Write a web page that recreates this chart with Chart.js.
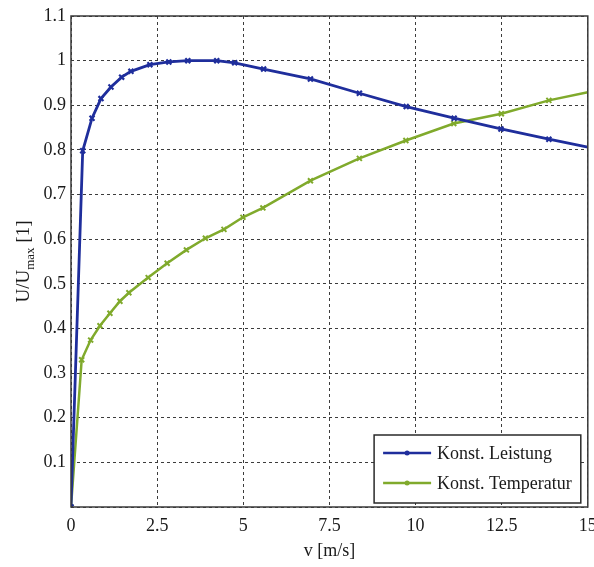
<!DOCTYPE html>
<html>
<head>
<meta charset="utf-8">
<script src="https://cdn.jsdelivr.net/npm/chart.js@4.4.0/dist/chart.umd.min.js"></script>
<style>
  html, body { margin: 0; padding: 0; background: #ffffff; }
  #wrap { width: 594px; height: 567px; }
</style>
</head>
<body>
<div id="wrap"><canvas id="chartU"></canvas></div>
<script>
// values
var leistungV = [0, 0.34, 0.61, 0.87, 1.16, 1.47, 1.74, 2.29, 2.84, 3.39, 4.23, 4.75, 5.59, 6.95, 8.37, 9.73, 11.12, 12.48, 13.87, 15];
var leistungU = [0, 0.798, 0.871, 0.915, 0.941, 0.963, 0.976, 0.991, 0.997, 1.0, 1.0, 0.995, 0.981, 0.959, 0.927, 0.897, 0.871, 0.847, 0.824, 0.806];

var temperaturV = [0, 0.31, 0.57, 0.84, 1.13, 1.42, 1.68, 2.24, 2.79, 3.35, 3.90, 4.44, 4.99, 5.57, 6.95, 8.37, 9.72, 11.11, 12.49, 13.87, 15];
var temperaturU = [0, 0.33, 0.374, 0.406, 0.434, 0.461, 0.48, 0.514, 0.546, 0.576, 0.602, 0.622, 0.649, 0.67, 0.731, 0.781, 0.821, 0.859, 0.881, 0.911, 0.929];

var xTicks = [0, 2.5, 5, 7.5, 10, 12.5, 15];
var yTicks = [0, 0.1, 0.2, 0.3, 0.4, 0.5, 0.6, 0.7, 0.8, 0.9, 1, 1.1];

var seriesNames = ["Konst. Leistung", "Konst. Temperatur"];

var serif = "'Liberation Serif', 'DejaVu Serif', serif";
var blue = "#1f2e9c";
var green = "#80aa2c";

function toPoints(xs, ys) {
  return xs.map(function (x, i) {
    return { x: x, y: ys[i] };
  });
}

// no marker on the last point (line just runs into the frame)
function markerSize(ctx) {
  return ctx.dataIndex === ctx.dataset.data.length - 1 ? 0 : 3.5;
}

// frame round the plot, like matlab "box on"
var frame = {
  id: "frame",
  afterDatasetsDraw: function (chart) {
    var a = chart.chartArea;
    var c = chart.ctx;
    c.save();
    c.strokeStyle = "#3a3a3a";
    c.lineWidth = 1.5;
    c.strokeRect(a.left, a.top, a.right - a.left, a.bottom - a.top);
    c.restore();
  },
};

// legend box in the lower right corner of the plot
var boxLegend = {
  id: "boxLegend",
  afterDraw: function (chart) {
    var a = chart.chartArea;
    var c = chart.ctx;
    var sets = chart.data.datasets;
    c.save();
    c.font = "18px " + serif;
    var w = 0;
    sets.forEach(function (d) {
      w = Math.max(w, c.measureText(d.label).width);
    });
    var boxW = w + 72;
    var boxH = 68;
    var x0 = a.right - 7 - boxW;
    var y0 = a.bottom - 4 - boxH;
    c.fillStyle = "#ffffff";
    c.fillRect(x0, y0, boxW, boxH);
    c.strokeStyle = "#2a2a2a";
    c.lineWidth = 1.5;
    c.strokeRect(x0, y0, boxW, boxH);
    sets.forEach(function (d, i) {
      var y = y0 + 18 + i * 30;
      c.strokeStyle = d.borderColor;
      c.lineWidth = 2.5;
      c.beginPath();
      c.moveTo(x0 + 9, y);
      c.lineTo(x0 + 57, y);
      c.stroke();
      c.fillStyle = d.borderColor;
      c.beginPath();
      c.arc(x0 + 33, y, 2.5, 0, Math.PI * 2);
      c.fill();
      c.fillStyle = "#1a1a1a";
      c.textBaseline = "middle";
      c.textAlign = "left";
      c.fillText(d.label, x0 + 63, y + 1);
    });
    c.restore();
  },
};

// y title with subscript: U/U_max [1]
var yTitle = {
  id: "yTitle",
  afterDraw: function (chart) {
    var a = chart.chartArea;
    var c = chart.ctx;
    c.save();
    c.fillStyle = "#1a1a1a";
    c.translate(29, (a.top + a.bottom) / 2);
    c.rotate(-Math.PI / 2);
    c.textBaseline = "alphabetic";
    var big = "19px " + serif;
    var small = "13px " + serif;
    c.font = big;
    var w1 = c.measureText("U/U").width;
    var w3 = c.measureText(" [1]").width;
    c.font = small;
    var w2 = c.measureText("max").width;
    var x = -(w1 + w2 + w3) / 2;
    c.font = big;
    c.fillText("U/U", x, 0);
    c.font = small;
    c.fillText("max", x + w1, 5);
    c.font = big;
    c.fillText(" [1]", x + w1 + w2, 0);
    c.restore();
  },
};

function fixedTicks(list) {
  return function (scale) {
    scale.ticks = list.map(function (v) {
      return { value: v };
    });
  };
}

var chartU = new Chart(document.getElementById("chartU"), {
  type: "line",
  data: {
    datasets: [
      {
        label: seriesNames[0],
        data: toPoints(leistungV, leistungU),
        borderColor: blue,
        backgroundColor: blue,
        borderWidth: 2.8,
        pointStyle: "crossRot",
        pointRadius: markerSize,
        pointBorderWidth: 2.2,
        pointBorderColor: blue,
        tension: 0,
        fill: false,
      },
      {
        label: seriesNames[1],
        data: toPoints(temperaturV, temperaturU),
        borderColor: green,
        backgroundColor: green,
        borderWidth: 2.5,
        pointStyle: "crossRot",
        pointRadius: markerSize,
        pointBorderWidth: 2,
        pointBorderColor: green,
        tension: 0,
        fill: false,
      },
    ],
  },
  options: {
    responsive: true,
    maintainAspectRatio: false,
    animation: false,
    layout: {
      padding: { top: 16, right: 5, left: 0, bottom: 0 },
    },
    plugins: {
      legend: { display: false },
      tooltip: { enabled: false },
    },
    scales: {
      x: {
        type: "linear",
        min: 0,
        max: 15,
        afterBuildTicks: fixedTicks(xTicks),
        afterFit: function (scale) {
          scale.height = 60;
          scale.paddingLeft = 0;
          scale.paddingRight = 0;
        },
        grid: {
          color: "#3c3c3c",
          lineWidth: 1,
          drawTicks: false,
        },
        border: { display: false, dash: [3, 3] },
        ticks: {
          padding: 8,
          color: "#1a1a1a",
          font: { family: serif, size: 18 },
          maxRotation: 0,
          callback: function (v) {
            return String(v);
          },
        },
        title: {
          display: true,
          text: "v [m/s]",
          color: "#1a1a1a",
          font: { family: serif, size: 18 },
          padding: { top: 0, bottom: 5 },
        },
      },
      y: {
        type: "linear",
        min: 0,
        max: 1.1,
        afterBuildTicks: fixedTicks(yTicks),
        afterFit: function (scale) {
          scale.width = 71;
          scale.paddingTop = 0;
          scale.paddingBottom = 0;
        },
        grid: {
          color: "#3c3c3c",
          lineWidth: 1,
          drawTicks: false,
        },
        border: { display: false, dash: [3, 3] },
        ticks: {
          padding: 5,
          color: "#1a1a1a",
          font: { family: serif, size: 18 },
          callback: function (v) {
            return v === 0 ? "" : String(+v.toFixed(1));
          },
        },
      },
    },
  },
  plugins: [frame, boxLegend, yTitle],
});
</script>
</body>
</html>
